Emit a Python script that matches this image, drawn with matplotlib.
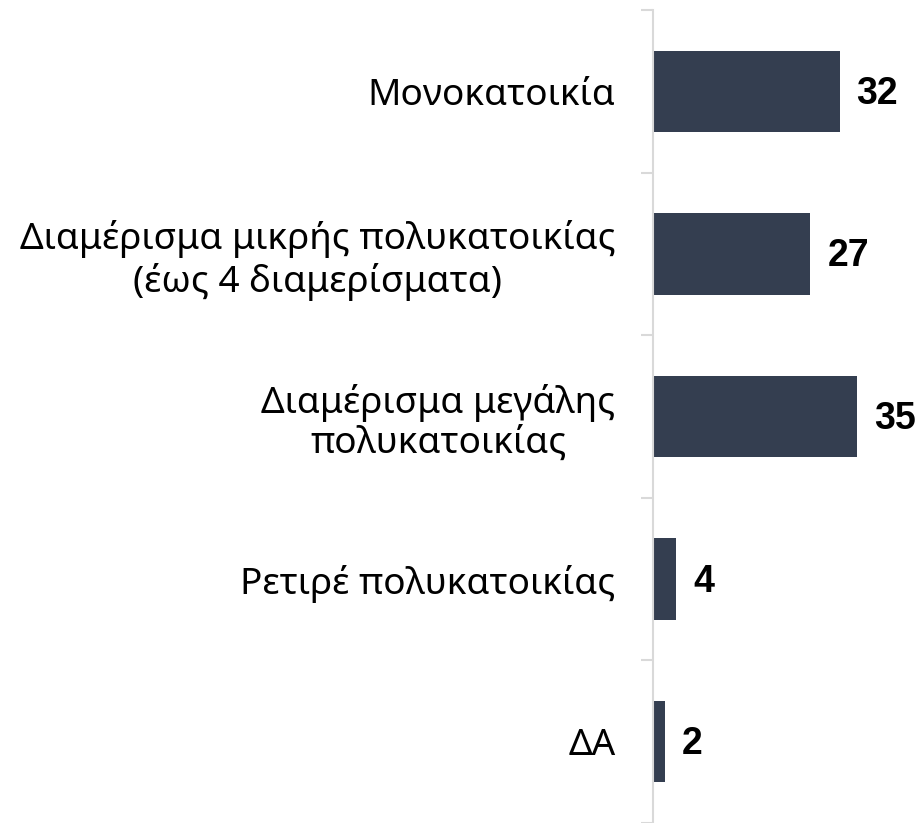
import matplotlib
matplotlib.use("Agg")
import matplotlib.pyplot as plt
import numpy as np

# data
categories = [
    "Μονοκατοικία",
    "Διαμέρισμα μικρής πολυκατοικίας\n(έως 4 διαμερίσματα)",
    "Διαμέρισμα μεγάλης\nπολυκατοικίας",
    "Ρετιρέ πολυκατοικίας",
    "ΔΑ",
]
values = [32, 27, 35, 4, 2]

bar_color = "#343e50"
axis_color = "#d9d9d9"

fig = plt.figure(figsize=(9.23, 8.23), dpi=100)
# axes starts at the vertical line, runs to the right edge
ax = fig.add_axes([653 / 923, 0, 1 - 653 / 923, 1 - 10 / 823])

y = np.arange(len(categories))
ax.barh(y, values, height=0.5, color=bar_color)

ax.set_ylim(len(categories) - 0.5, -0.5)
ax.set_xlim(0, 270 / 5.83)

# labels on bar centres, tick marks on category boundaries
ax.set_yticks(y)
ax.set_yticklabels(categories, family=["Noto Sans", "DejaVu Sans"], fontsize=26.6,
                   linespacing=1.15, ha="right", ma="center")
ax.tick_params(axis="y", which="major", length=0, pad=27)
ax.set_yticks(np.arange(len(categories) + 1) - 0.5, minor=True)
ax.tick_params(axis="y", which="minor", length=8.6, width=1.5, color=axis_color)

ax.set_xticks([])
for side in ["top", "right", "bottom"]:
    ax.spines[side].set_visible(False)
ax.spines["left"].set_color(axis_color)
ax.spines["left"].set_linewidth(1.5)

for yi, v in zip(y, values):
    ax.text(v + 2.9, yi + 0.015, str(v), va="center", ha="left", fontsize=27,
            fontweight="bold", family="Liberation Sans", clip_on=False)

fig.savefig("out.png", dpi=100)
